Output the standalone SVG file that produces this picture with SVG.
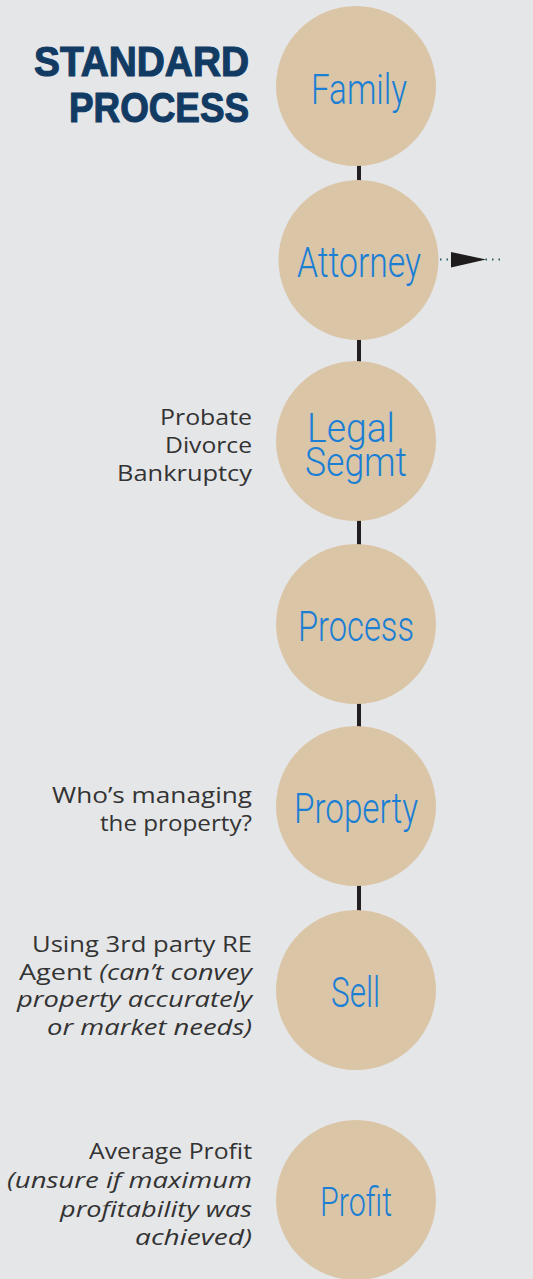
<svg xmlns="http://www.w3.org/2000/svg" width="533" height="1279" viewBox="0 0 533 1279">
<style>
.bg{fill:#e5e6e8}
.node circle{fill:#dbc5a7}
.lbl{font-family:Roboto,"Liberation Sans",sans-serif;font-weight:300;font-size:43px;fill:#1a7fd4}
.side{font-family:"Open Sans","Liberation Sans",sans-serif;font-size:22px;fill:#333333;text-anchor:end}
.it{font-style:italic}
.title{font-family:"Liberation Sans",sans-serif;font-weight:bold;font-size:43px;fill:#123b64;stroke:#123b64;stroke-width:1.2px}
.conn{stroke:#231f20;stroke-width:4;fill:none}
.dots{stroke:#2d5866;stroke-width:2;stroke-dasharray:1.5 5;fill:none}
</style>
<rect class="bg" x="0" y="0" width="533" height="1279"/>
<g id="title">
<text class="title" x="34" y="76" textLength="215" lengthAdjust="spacingAndGlyphs">STANDARD</text>
<text class="title" x="69" y="122" textLength="180" lengthAdjust="spacingAndGlyphs">PROCESS</text>
</g>
<g id="connectors">
<line class="conn" x1="359" y1="163" x2="359" y2="183"/>
<line class="conn" x1="359" y1="337" x2="359" y2="364"/>
<line class="conn" x1="359" y1="518" x2="359" y2="547"/>
<line class="conn" x1="359" y1="701" x2="359" y2="729"/>
<line class="conn" x1="359" y1="884" x2="359" y2="913"/>
<line class="dots" x1="440" y1="259.5" x2="503" y2="259.5"/>
<polygon points="451,252 451,267.5 486,259.5" fill="#1e1c1d"/>
</g>
<g id="family" class="node">
<circle cx="356" cy="86" r="80"/>
<text class="lbl" x="311" y="104" textLength="96" lengthAdjust="spacingAndGlyphs">Family</text>
</g>
<g id="attorney" class="node">
<circle cx="358.5" cy="260" r="80"/>
<text class="lbl" x="297" y="277" textLength="124" lengthAdjust="spacingAndGlyphs">Attorney</text>
</g>
<g id="legal" class="node">
<circle cx="356" cy="441" r="80"/>
<text class="lbl" style="font-size:40px" x="307" y="442" textLength="88" lengthAdjust="spacingAndGlyphs">Legal</text>
<text class="lbl" style="font-size:40px" x="305" y="476" textLength="102" lengthAdjust="spacingAndGlyphs">Segmt</text>
<text class="side" x="252" y="425" textLength="92" lengthAdjust="spacingAndGlyphs">Probate</text>
<text class="side" x="252" y="453" textLength="87" lengthAdjust="spacingAndGlyphs">Divorce</text>
<text class="side" x="252" y="481" textLength="135" lengthAdjust="spacingAndGlyphs">Bankruptcy</text>
</g>
<g id="process" class="node">
<circle cx="356" cy="624" r="80"/>
<text class="lbl" x="298" y="641" textLength="116" lengthAdjust="spacingAndGlyphs">Process</text>
</g>
<g id="property" class="node">
<circle cx="356" cy="806" r="80"/>
<text class="lbl" x="294" y="823" textLength="124" lengthAdjust="spacingAndGlyphs">Property</text>
<text class="side" x="252" y="803" textLength="200" lengthAdjust="spacingAndGlyphs">Who’s managing</text>
<text class="side" x="252" y="831" textLength="152" lengthAdjust="spacingAndGlyphs">the property?</text>
</g>
<g id="sell" class="node">
<circle cx="356" cy="990" r="80"/>
<text class="lbl" x="331" y="1007" textLength="49" lengthAdjust="spacingAndGlyphs">Sell</text>
<text class="side" x="252" y="952" textLength="220" lengthAdjust="spacingAndGlyphs">Using 3rd party RE</text>
<text class="side" x="252" y="980" textLength="233" lengthAdjust="spacingAndGlyphs">Agent <tspan class="it">(can’t convey</tspan></text>
<text class="side it" x="252" y="1007" textLength="235" lengthAdjust="spacingAndGlyphs">property accurately</text>
<text class="side it" x="252" y="1035" textLength="205" lengthAdjust="spacingAndGlyphs">or market needs)</text>
</g>
<g id="profit" class="node">
<circle cx="356" cy="1200" r="80"/>
<text class="lbl" style="font-size:41px" x="320" y="1216" textLength="72" lengthAdjust="spacingAndGlyphs">Profit</text>
<text class="side" x="252" y="1159" textLength="163" lengthAdjust="spacingAndGlyphs">Average Profit</text>
<text class="side it" x="252" y="1188" textLength="245" lengthAdjust="spacingAndGlyphs">(unsure if maximum</text>
<text class="side it" x="252" y="1217" textLength="192" lengthAdjust="spacingAndGlyphs">profitability was</text>
<text class="side it" x="252" y="1245" textLength="117" lengthAdjust="spacingAndGlyphs">achieved)</text>
</g>
</svg>
